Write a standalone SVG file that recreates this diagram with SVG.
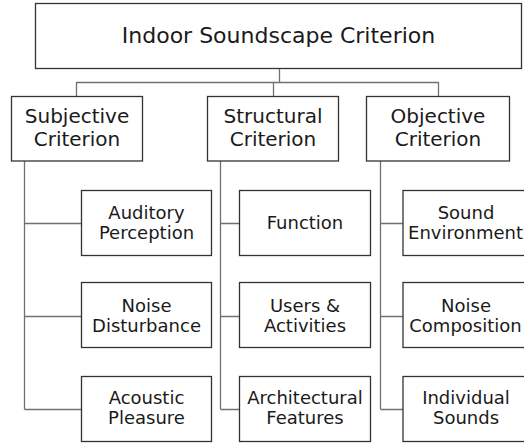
<svg xmlns="http://www.w3.org/2000/svg" width="524" height="443" viewBox="0 0 524 443">
<style>
.box{fill:#fff;stroke:#333;stroke-width:1.3}
.t{font-family:"DejaVu Sans",Verdana,sans-serif;fill:#1a1a1a;text-anchor:middle}
.t0{font-size:22px}
.t1{font-size:20px}
.t2{font-size:18px}
.c{fill:none;stroke:#707070;stroke-width:1.3}
</style>
<rect width="524" height="443" fill="#fff"/>
<g id="connectors">
<path class="c" d="M279.5 69V82.5M76.5 82.5H438.5M76.5 82V96M273.5 82V96M438.5 82V96"/>
<path class="c" d="M24.5 161V409.5M24.5 223.5H81M24.5 316.5H81M24.5 409.5H81"/>
<path class="c" d="M220.5 161V409.5M220.5 223.5H239M220.5 316.5H239M220.5 409.5H239"/>
<path class="c" d="M380.5 161V409.5M380.5 223.5H403M380.5 316.5H403M380.5 409.5H403"/>
</g>
<g id="root"><rect class="box" x="35.5" y="3.5" width="486" height="65"/><text class="t t0" x="278.5" y="43">Indoor Soundscape Criterion</text></g>
<g id="subjective"><rect class="box" x="11.5" y="96.5" width="131" height="64.5"/><text class="t t1" x="77" y="123">Subjective</text><text class="t t1" x="77" y="146">Criterion</text></g>
<g id="structural"><rect class="box" x="207.5" y="96.5" width="131" height="64.5"/><text class="t t1" x="273" y="123">Structural</text><text class="t t1" x="273" y="146">Criterion</text></g>
<g id="objective"><rect class="box" x="366.5" y="96.5" width="143" height="64.5"/><text class="t t1" x="438" y="123">Objective</text><text class="t t1" x="438" y="146">Criterion</text></g>
<g id="auditory"><rect class="box" x="81.5" y="190.5" width="130" height="65"/><text class="t t2" x="146.5" y="219">Auditory</text><text class="t t2" x="146.5" y="239">Perception</text></g>
<g id="noise-disturbance"><rect class="box" x="81.5" y="282.5" width="130" height="65"/><text class="t t2" x="146.5" y="311.5">Noise</text><text class="t t2" x="146.5" y="332">Disturbance</text></g>
<g id="acoustic"><rect class="box" x="81.5" y="376.5" width="130" height="65"/><text class="t t2" x="146.5" y="403.5">Acoustic</text><text class="t t2" x="146.5" y="423.5">Pleasure</text></g>
<g id="function"><rect class="box" x="239.5" y="190.5" width="131" height="65"/><text class="t t2" x="305" y="228.5">Function</text></g>
<g id="users"><rect class="box" x="239.5" y="282.5" width="131" height="65"/><text class="t t2" x="305" y="311.5">Users &amp;</text><text class="t t2" x="305" y="332">Activities</text></g>
<g id="architectural"><rect class="box" x="239.5" y="376.5" width="131" height="65"/><text class="t t2" x="305" y="403.5">Architectural</text><text class="t t2" x="305" y="423.5">Features</text></g>
<g id="sound-env"><rect class="box" x="403" y="190.5" width="132" height="65"/><text class="t t2" x="466" y="219">Sound</text><text class="t t2" x="465.5" y="239" font-size="17">Environment</text></g>
<g id="noise-comp"><rect class="box" x="403" y="282.5" width="132" height="65"/><text class="t t2" x="466" y="311.5">Noise</text><text class="t t2" x="465.5" y="332" font-size="17">Composition</text></g>
<g id="individual"><rect class="box" x="403" y="376.5" width="132" height="65"/><text class="t t2" x="466" y="403.5">Individual</text><text class="t t2" x="466" y="423.5">Sounds</text></g>
</svg>
